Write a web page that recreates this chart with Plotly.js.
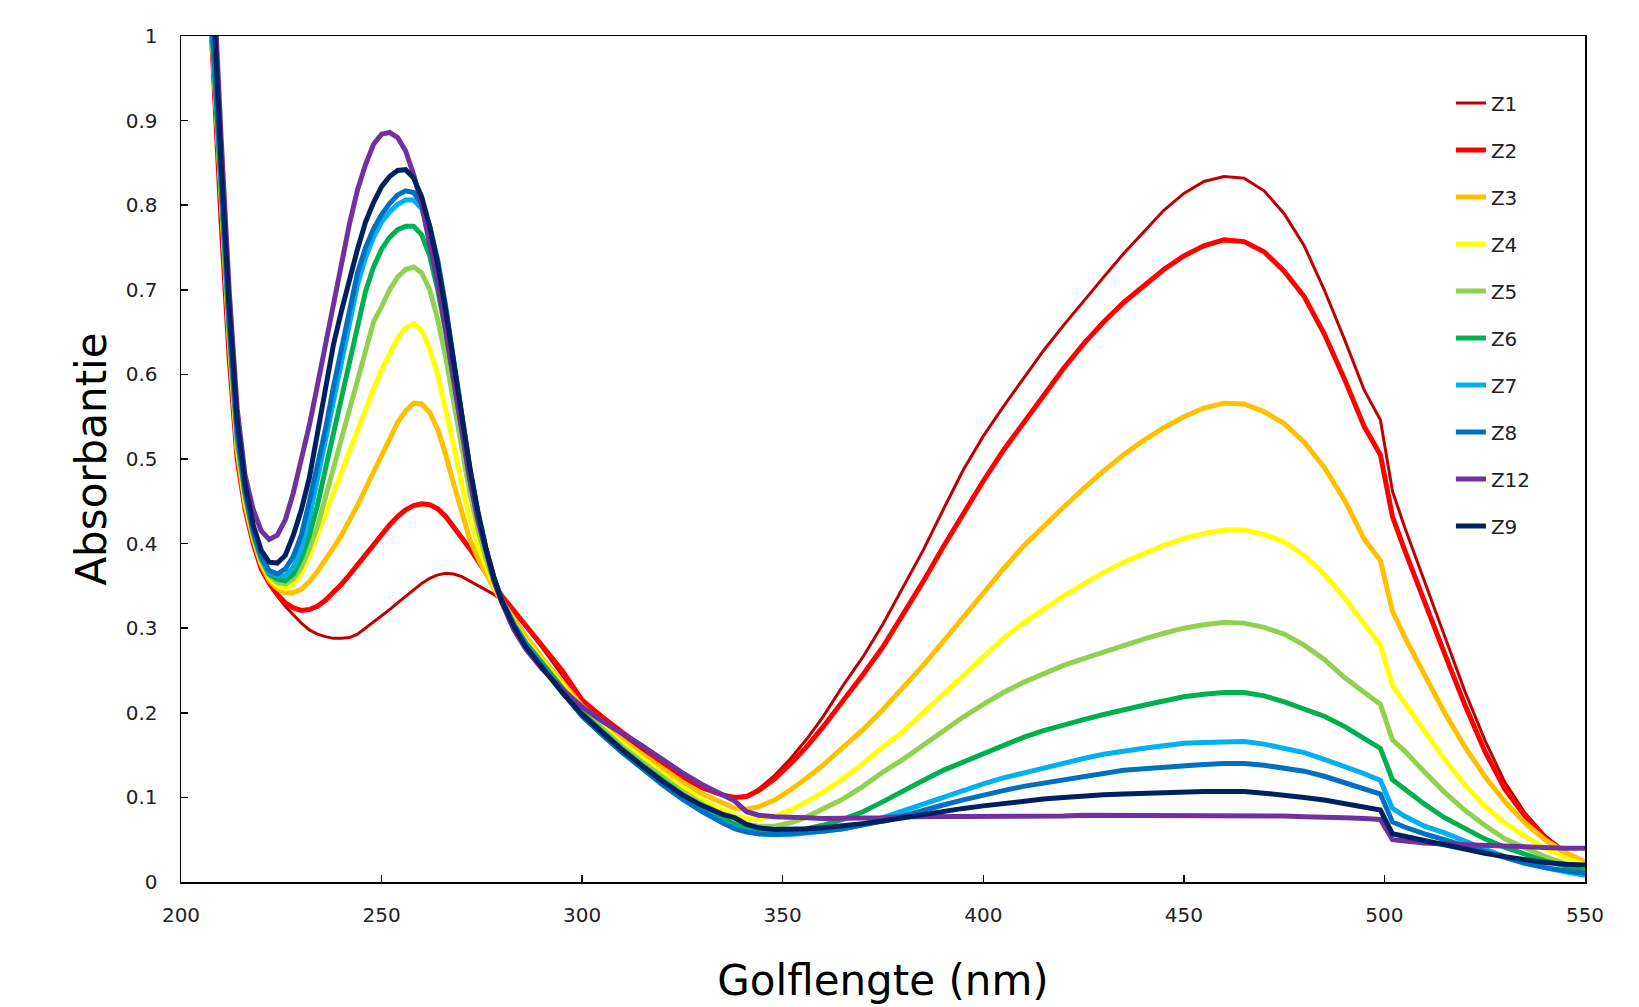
<!DOCTYPE html>
<html>
<head>
<meta charset="utf-8">
<script src="https://cdn.plot.ly/plotly-3.0.1.min.js"></script>
<style>html,body{margin:0;padding:0;background:#fff;}#chart{width:1639px;height:1007px;}</style>
</head>
<body>
<div id="chart"></div>
<script>
// Wavelength (nm)
const wavelength = [
  206,208,210,212,214,216,218,220,
  222,224,226,228,230,232,234,236,
  238,240,242,244,246,248,250,252,
  254,256,258,260,262,264,266,268,
  270,272,274,276,278,280,283,286,
  290,295,300,305,310,315,320,325,
  330,335,338,341,344,348,352,356,
  360,365,370,375,380,385,390,395,
  400,405,410,415,420,425,430,435,
  440,445,450,455,460,465,470,475,
  480,485,490,495,499,502,505,510,
  515,520,525,530,535,540,545,550
];

const seriesNames = ["Z1","Z2","Z3","Z4","Z5","Z6","Z7","Z8","Z12","Z9"];

const Z1 = [
  1.15,0.97,0.79,0.63,0.50,0.44,0.40,0.37,
  0.352,0.338,0.326,0.316,0.306,0.298,0.293,0.29,
  0.288,0.288,0.289,0.293,0.3,0.307,0.315,0.322,
  0.33,0.338,0.346,0.353,0.359,0.363,0.365,0.364,
  0.361,0.356,0.35,0.345,0.34,0.333,0.318,0.302,
  0.277,0.245,0.212,0.191,0.173,0.156,0.138,0.123,
  0.11,0.102,0.1,0.102,0.11,0.126,0.146,0.169,
  0.195,0.232,0.266,0.305,0.348,0.392,0.44,0.487,
  0.527,0.562,0.595,0.628,0.658,0.687,0.715,0.743,
  0.769,0.794,0.814,0.828,0.834,0.832,0.817,0.79,
  0.752,0.70,0.642,0.581,0.546,0.462,0.42,0.355,
  0.29,0.226,0.168,0.118,0.082,0.055,0.036,0.022
];
const Z2 = [
  1.15,0.96,0.78,0.62,0.50,0.44,0.40,0.37,
  0.353,0.34,0.33,0.324,0.321,0.322,0.326,0.333,
  0.342,0.352,0.363,0.375,0.388,0.40,0.412,0.422,
  0.432,0.44,0.445,0.447,0.446,0.441,0.432,0.42,
  0.408,0.394,0.38,0.365,0.351,0.338,0.32,0.303,
  0.28,0.25,0.215,0.195,0.177,0.16,0.14,0.125,
  0.112,0.103,0.1,0.101,0.108,0.122,0.14,0.16,
  0.183,0.213,0.245,0.278,0.316,0.355,0.396,0.436,
  0.474,0.51,0.543,0.576,0.607,0.636,0.662,0.685,
  0.704,0.724,0.740,0.752,0.759,0.757,0.745,0.722,
  0.692,0.648,0.595,0.538,0.505,0.432,0.393,0.33,
  0.27,0.21,0.155,0.11,0.078,0.052,0.034,0.022
];
const Z3 = [
  1.15,0.98,0.80,0.64,0.51,0.445,0.405,0.375,
  0.356,0.347,0.342,0.342,0.346,0.355,0.367,0.38,
  0.395,0.41,0.427,0.445,0.465,0.485,0.505,0.525,
  0.543,0.557,0.566,0.565,0.555,0.535,0.505,0.47,
  0.435,0.405,0.383,0.364,0.347,0.332,0.31,0.29,
  0.265,0.236,0.208,0.188,0.168,0.151,0.135,0.118,
  0.104,0.093,0.087,0.086,0.089,0.097,0.109,0.123,
  0.138,0.159,0.18,0.204,0.229,0.256,0.284,0.313,
  0.342,0.37,0.397,0.421,0.443,0.465,0.486,0.505,
  0.522,0.537,0.55,0.56,0.566,0.565,0.556,0.542,
  0.52,0.49,0.452,0.405,0.38,0.32,0.29,0.245,
  0.20,0.16,0.125,0.095,0.07,0.05,0.035,0.024
];
const Z4 = [
  1.15,0.985,0.81,0.645,0.515,0.45,0.408,0.378,
  0.36,0.35,0.347,0.352,0.365,0.385,0.41,0.435,
  0.46,0.485,0.51,0.535,0.56,0.583,0.605,0.625,
  0.643,0.655,0.66,0.652,0.63,0.60,0.56,0.515,
  0.47,0.43,0.398,0.372,0.35,0.331,0.306,0.285,
  0.262,0.232,0.205,0.184,0.164,0.146,0.128,0.112,
  0.097,0.085,0.079,0.075,0.074,0.078,0.085,0.095,
  0.106,0.122,0.14,0.16,0.178,0.2,0.222,0.245,
  0.268,0.288,0.306,0.322,0.338,0.352,0.366,0.378,
  0.388,0.398,0.406,0.412,0.416,0.416,0.411,0.402,
  0.386,0.364,0.336,0.304,0.28,0.232,0.212,0.178,
  0.145,0.115,0.09,0.07,0.054,0.04,0.029,0.02
];
const Z5 = [
  1.15,0.99,0.815,0.65,0.52,0.455,0.41,0.38,
  0.362,0.354,0.352,0.358,0.372,0.394,0.42,0.455,
  0.492,0.527,0.56,0.595,0.63,0.662,0.68,0.70,
  0.715,0.724,0.727,0.72,0.70,0.665,0.62,0.567,
  0.512,0.46,0.418,0.383,0.355,0.332,0.305,0.283,
  0.26,0.23,0.203,0.181,0.16,0.142,0.124,0.107,
  0.092,0.08,0.073,0.068,0.066,0.066,0.07,0.077,
  0.086,0.098,0.113,0.13,0.145,0.162,0.179,0.195,
  0.21,0.224,0.236,0.246,0.256,0.264,0.272,0.28,
  0.287,0.294,0.3,0.304,0.307,0.306,0.301,0.293,
  0.28,0.263,0.242,0.224,0.21,0.168,0.155,0.13,
  0.106,0.085,0.067,0.051,0.04,0.03,0.022,0.016
];
const Z6 = [
  1.15,0.995,0.82,0.655,0.525,0.458,0.412,0.382,
  0.364,0.358,0.356,0.364,0.383,0.41,0.445,0.488,
  0.53,0.575,0.62,0.66,0.698,0.727,0.748,0.762,
  0.771,0.775,0.775,0.765,0.74,0.70,0.65,0.592,
  0.532,0.476,0.428,0.39,0.358,0.333,0.305,0.282,
  0.258,0.228,0.2,0.178,0.157,0.138,0.12,0.103,
  0.088,0.075,0.068,0.063,0.06,0.059,0.06,0.063,
  0.067,0.074,0.083,0.095,0.108,0.12,0.132,0.142,
  0.152,0.162,0.171,0.179,0.186,0.192,0.198,0.204,
  0.209,0.214,0.219,0.222,0.224,0.224,0.22,0.213,
  0.205,0.196,0.184,0.17,0.158,0.121,0.11,0.092,
  0.076,0.063,0.051,0.041,0.033,0.025,0.019,0.013
];
const Z7 = [
  1.15,1.0,0.83,0.66,0.53,0.46,0.414,0.383,
  0.366,0.362,0.362,0.372,0.395,0.43,0.475,0.52,
  0.568,0.615,0.662,0.706,0.738,0.762,0.78,0.792,
  0.801,0.806,0.806,0.796,0.77,0.73,0.675,0.612,
  0.548,0.487,0.436,0.393,0.36,0.333,0.304,0.28,
  0.255,0.225,0.197,0.175,0.154,0.135,0.116,0.099,
  0.084,0.071,0.064,0.06,0.057,0.056,0.056,0.058,
  0.06,0.063,0.068,0.076,0.085,0.093,0.101,0.109,
  0.116,0.123,0.129,0.135,0.141,0.146,0.151,0.155,
  0.158,0.161,0.164,0.165,0.166,0.166,0.163,0.158,
  0.153,0.145,0.137,0.128,0.12,0.087,0.078,0.066,
  0.058,0.048,0.039,0.03,0.023,0.017,0.012,0.008
];
const Z8 = [
  1.15,1.0,0.835,0.665,0.532,0.462,0.415,0.384,
  0.368,0.364,0.37,0.385,0.41,0.45,0.49,0.535,
  0.585,0.63,0.68,0.72,0.75,0.772,0.789,0.802,
  0.812,0.817,0.815,0.802,0.775,0.735,0.68,0.615,
  0.55,0.489,0.437,0.394,0.36,0.332,0.303,0.279,
  0.254,0.224,0.196,0.174,0.153,0.134,0.115,0.098,
  0.083,0.07,0.063,0.059,0.057,0.056,0.057,0.058,
  0.06,0.063,0.067,0.072,0.078,0.085,0.091,0.097,
  0.103,0.108,0.113,0.117,0.121,0.125,0.129,0.132,
  0.134,0.136,0.138,0.139,0.14,0.14,0.138,0.135,
  0.131,0.125,0.118,0.11,0.104,0.071,0.065,0.057,
  0.05,0.042,0.035,0.028,0.022,0.017,0.013,0.01
];
const Z12 = [
  1.15,1.08,0.88,0.70,0.56,0.48,0.44,0.415,
  0.405,0.41,0.428,0.46,0.5,0.54,0.587,0.635,
  0.683,0.73,0.778,0.818,0.848,0.872,0.884,0.886,
  0.88,0.864,0.836,0.80,0.757,0.708,0.652,0.59,
  0.53,0.475,0.428,0.39,0.356,0.33,0.298,0.275,
  0.252,0.228,0.207,0.19,0.176,0.161,0.145,0.129,
  0.115,0.103,0.096,0.083,0.079,0.077,0.077,0.076,
  0.075,0.075,0.076,0.076,0.077,0.077,0.077,0.078,
  0.078,0.078,0.078,0.078,0.078,0.079,0.079,0.079,
  0.079,0.079,0.079,0.079,0.079,0.079,0.079,0.078,
  0.077,0.077,0.076,0.075,0.074,0.05,0.048,0.046,
  0.045,0.044,0.043,0.042,0.042,0.041,0.04,0.04
];
const Z9 = [
  1.15,1.05,0.85,0.68,0.545,0.47,0.422,0.392,
  0.378,0.377,0.386,0.41,0.44,0.478,0.53,0.58,
  0.635,0.675,0.712,0.748,0.78,0.803,0.822,0.834,
  0.841,0.842,0.832,0.81,0.775,0.73,0.675,0.614,
  0.55,0.49,0.438,0.395,0.36,0.332,0.302,0.278,
  0.254,0.224,0.198,0.176,0.156,0.137,0.119,0.103,
  0.09,0.08,0.076,0.068,0.064,0.062,0.062,0.063,
  0.064,0.066,0.069,0.072,0.076,0.08,0.084,0.087,
  0.09,0.093,0.095,0.098,0.1,0.102,0.103,0.104,
  0.105,0.106,0.107,0.107,0.107,0.107,0.105,0.103,
  0.1,0.097,0.093,0.089,0.085,0.057,0.054,0.048,
  0.043,0.039,0.034,0.03,0.026,0.023,0.021,0.02
];

const seriesValues = [Z1, Z2, Z3, Z4, Z5, Z6, Z7, Z8, Z12, Z9];
const seriesColors = ["#C00000","#FF0000","#FFC000","#FFFF00","#92D050","#00B050","#00B0F0","#0070C0","#7030A0","#002060"];
const seriesWidths = [3, 5, 5, 5, 5, 5, 5, 5, 5, 5];

const xTicks = [200, 250, 300, 350, 400, 450, 500, 550];
const yTicks = [0, 0.1, 0.2, 0.3, 0.4, 0.5, 0.6, 0.7, 0.8, 0.9, 1];
const yTickText = ["0", "0.1", "0.2", "0.3", "0.4", "0.5", "0.6", "0.7", "0.8", "0.9", "1"];

const traces = seriesNames.map((name, i) => ({
  type: "scatter",
  mode: "lines",
  name: name,
  legendgroup: name,
  x: wavelength,
  y: seriesValues[i],
  line: {color: seriesColors[i], width: seriesWidths[i], shape: "linear"},
  hoverinfo: "x+y+name"
}));

const FONT = "DejaVu Sans, Verdana, sans-serif";

const layout = {
  width: 1639,
  height: 1007,
  paper_bgcolor: "#ffffff",
  plot_bgcolor: "#ffffff",
  margin: {l: 181, r: 54, t: 36, b: 125, pad: 0},
  font: {family: FONT, color: "#222222"},
  showlegend: true,
  legend: {
    x: 0.9045, y: 0.944, xanchor: "left", yanchor: "top",
    font: {family: FONT, size: 20, color: "#222222"},
    bgcolor: "rgba(0,0,0,0)",
    tracegroupgap: 18,
    traceorder: "grouped"
  },
  xaxis: {
    range: [200, 550],
    tickvals: xTicks,
    ticktext: xTicks.map(String),
    ticks: "inside", ticklen: 7, tickwidth: 1.5, tickcolor: "#000",
    showline: true, linecolor: "#000", linewidth: 1.5, mirror: true,
    showgrid: false, zeroline: false,
    tickfont: {family: FONT, size: 20, color: "#222222"},
    ticklabelstandoff: 14,
    title: {text: "Golflengte (nm)", font: {family: FONT, size: 42, color: "#000"}, standoff: 40},
    automargin: false
  },
  yaxis: {
    range: [0, 1],
    tickvals: yTicks,
    ticktext: yTickText,
    ticks: "inside", ticklen: 7, tickwidth: 1.5, tickcolor: "#000",
    showline: true, linecolor: "#000", linewidth: 1.5, mirror: true,
    showgrid: false, zeroline: false,
    tickfont: {family: FONT, size: 20, color: "#222222"},
    ticklabelstandoff: 18,
    title: {text: "Absorbantie", font: {family: FONT, size: 42, color: "#000"}, standoff: 6},
    automargin: false
  }
};

Plotly.newPlot("chart", traces, layout, {displayModeBar: false, staticPlot: true});
</script>
</body>
</html>
